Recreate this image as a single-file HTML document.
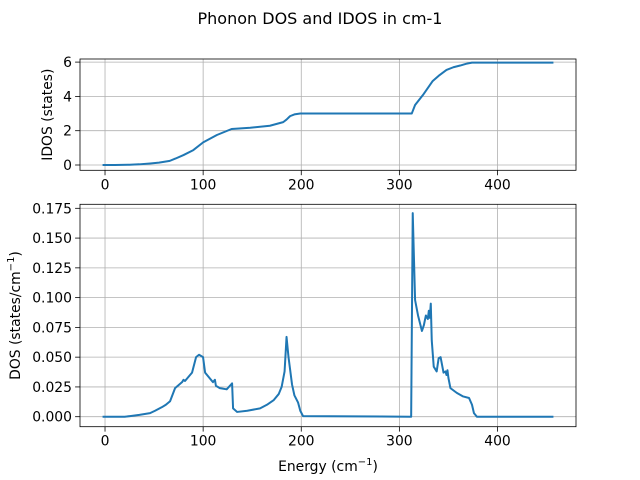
<!DOCTYPE html>
<html><head><meta charset="utf-8">
<style>
html,body{margin:0;padding:0;background:#fff;}
svg{display:block;font-family:"DejaVu Sans","Liberation Sans",sans-serif;}
</style></head>
<body>
<svg id="chart" width="640" height="480" viewBox="0 0 640 480">
<text x="320" y="24" text-anchor="middle" font-size="16">Phonon DOS and IDOS in cm-1</text>
</svg>
<script>
const xTicks = [0, 100, 200, 300, 400];
const idosTicks = [0, 2, 4, 6];
const dosTicks = [0, 0.025, 0.05, 0.075, 0.1, 0.125, 0.15, 0.175];

const idosEnergy = [-2.5, 10, 25, 35, 46, 55, 66, 72, 80, 90, 100, 114, 129, 148, 168, 181.6, 185, 188.6, 193, 199, 312.6, 316, 324, 334, 340, 348, 355, 362, 368, 374, 457];
const idosValues = [0, 0.003, 0.015, 0.04, 0.09, 0.14, 0.24, 0.38, 0.58, 0.87, 1.32, 1.75, 2.1, 2.17, 2.29, 2.5, 2.65, 2.85, 2.95, 3.0, 3.0, 3.5, 4.08, 4.9, 5.2, 5.54, 5.7, 5.8, 5.9, 5.97, 5.97];

const dosEnergy = [-2.5, 20, 25.5, 35, 45.9, 51, 58, 62, 66.3, 71.4, 78.5, 80, 81.5, 88.7, 92.8, 95.8, 99.9, 102, 110, 112, 113, 117, 124, 129.5, 130.5, 134.6, 145, 158, 165, 172, 177, 180, 183, 185, 187, 190.6, 193, 196.7, 199, 201.8, 312, 313.6, 316, 319, 323, 325, 327, 329, 330, 331, 332, 333, 335, 338, 340, 342, 345, 347, 348, 349, 350, 352, 358.5, 365, 371, 374, 376, 379, 457];
const dosValues = [0, 0, 0.0005, 0.0015, 0.003, 0.005, 0.008, 0.010, 0.013, 0.024, 0.029, 0.031, 0.030, 0.037, 0.050, 0.052, 0.050, 0.037, 0.029, 0.031, 0.026, 0.024, 0.023, 0.028, 0.007, 0.004, 0.005, 0.007, 0.010, 0.014, 0.019, 0.025, 0.038, 0.067, 0.050, 0.027, 0.018, 0.012, 0.005, 0.0005, 0, 0.171, 0.098, 0.085, 0.072, 0.077, 0.085, 0.082, 0.089, 0.083, 0.095, 0.064, 0.042, 0.038, 0.049, 0.050, 0.037, 0.038, 0.035, 0.039, 0.0325, 0.024, 0.020, 0.017, 0.0157, 0.010, 0.003, 0, 0];

const NS = "http://www.w3.org/2000/svg";
const svg = document.getElementById('chart');
function mk(tag, attrs, parent) {
  const e = document.createElementNS(NS, tag);
  for (const k in attrs) e.setAttribute(k, attrs[k]);
  (parent || svg).appendChild(e);
  return e;
}
const L = 80, R = 576;
const xMin = -25.5, xMax = 480;
function xs(v) { return L + (v - xMin) / (xMax - xMin) * (R - L); }

function panel(name, top, bottom, yScale, yTicks, fmt, ex, ey, ylabel, ylabelX) {
  const g = mk('g', {});
  
  
  xTicks.forEach(t => {
    const l = mk('line', {x1: xs(t), x2: xs(t), y1: top, y2: bottom, stroke: '#b0b0b0', 'stroke-width': 0.8}, g);
    
    
    const tk = mk('line', {x1: xs(t), x2: xs(t), y1: bottom, y2: bottom + 4.9, stroke: '#000', 'stroke-width': 0.8}, g);
    
    
    const tx = mk('text', {x: xs(t), y: bottom + 19, 'text-anchor': 'middle', 'font-size': 13.9}, g);
    tx.textContent = t;
    
    
  });
  yTicks.forEach(t => {
    const y = yScale(t);
    const l = mk('line', {x1: L, x2: R, y1: y, y2: y, stroke: '#b0b0b0', 'stroke-width': 0.8}, g);
    
    
    const tk = mk('line', {x1: L - 4.9, x2: L, y1: y, y2: y, stroke: '#000', 'stroke-width': 0.8}, g);
    
    
    const tx = mk('text', {x: L - 8, y: y + 5, 'text-anchor': 'end', 'font-size': 13.9}, g);
    tx.textContent = fmt(t);
    
    
  });
  const d = ex.map((e, i) => (i ? 'L' : 'M') + xs(e).toFixed(2) + ',' + yScale(ey[i]).toFixed(2)).join(' ');
  const p = mk('path', {d: d, fill: 'none', stroke: '#1f77b4', 'stroke-width': 2, 'stroke-linejoin': 'round'}, g);
  
  
  const r = mk('rect', {x: L, y: top, width: R - L, height: bottom - top, fill: 'none', stroke: '#000', 'stroke-width': 0.8}, g);
  
  
  const yl = mk('text', {x: ylabelX, y: (top + bottom) / 2, 'text-anchor': 'middle', 'font-size': 13.9, transform: 'rotate(-90 ' + ylabelX + ' ' + (top + bottom) / 2 + ')'}, g);
  yl.innerHTML = ylabel;
  
  
}

panel('idos', 59, 170.3, v => 165 - v * 17.15, idosTicks, t => String(t), idosEnergy, idosValues, 'IDOS (states)', 52);
panel('dos', 204.3, 426.7, v => 416.7 - v * 1190.8, dosTicks, t => t.toFixed(3), dosEnergy, dosValues,
  'DOS (states/cm<tspan dy="-6" font-size="10">−1</tspan><tspan dy="6">)</tspan>', 20);

const xl = mk('text', {x: 328, y: 471, 'text-anchor': 'middle', 'font-size': 13.9});
xl.innerHTML = 'Energy (cm<tspan dy="-6" font-size="10">−1</tspan><tspan dy="6">)</tspan>';


</script>
</body></html>
